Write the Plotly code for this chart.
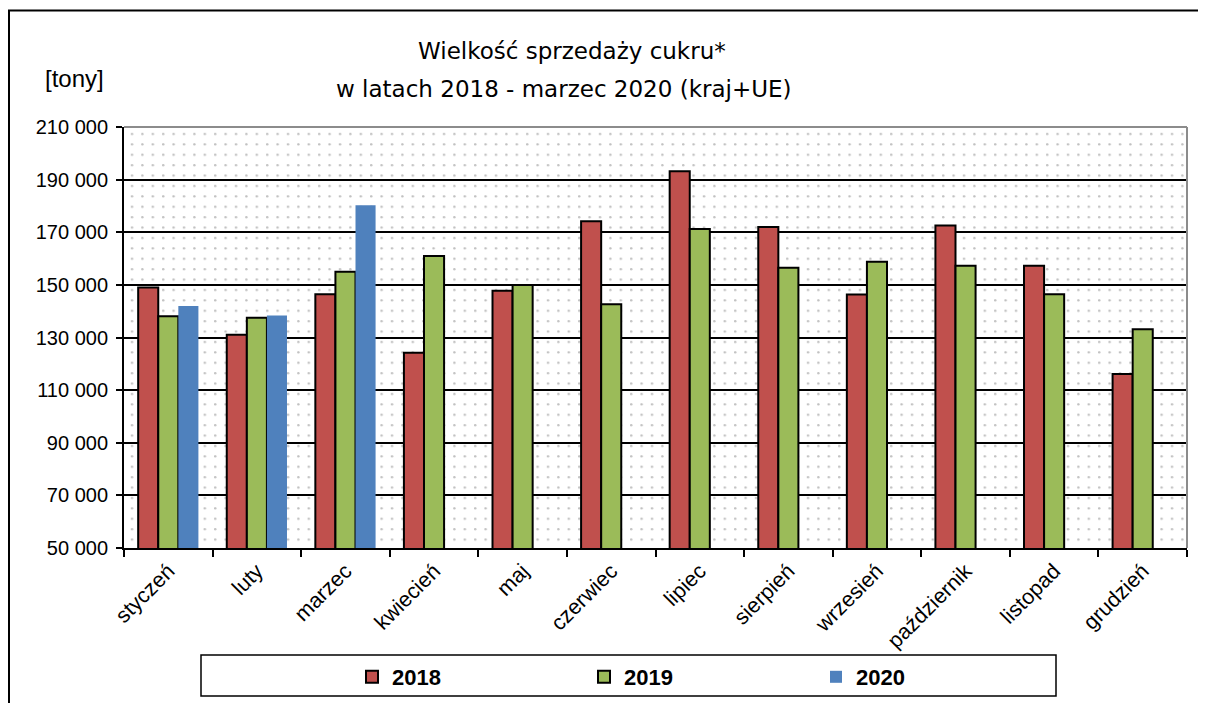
import base64
import plotly.graph_objects as go

months = ["styczeń", "luty", "marzec", "kwiecień", "maj", "czerwiec", "lipiec",
          "sierpień", "wrzesień", "październik", "listopad", "grudzień"]
sales_2018 = [149000, 131000, 146400, 124200, 147800, 174200, 193200, 172000, 146300, 172600, 157300, 116100]
sales_2019 = [138100, 137500, 155000, 161000, 150000, 142600, 171200, 156500, 158800, 157300, 146400, 133100]
sales_2020 = [142000, 138400, 180300, None, None, None, None, None, None, None, None, None]
y_ticks = [50000, 70000, 90000, 110000, 130000, 150000, 170000, 190000, 210000]

# the page adds an 8px body margin, so the figure is drawn 8px smaller and positions are page-8
OFF = 8
W, H = 1190, 695
L, T = 124 - OFF, 127 - OFF
R, B = W - (1187 - OFF), H - (548 - OFF)
PW, PH = W - L - R, H - T - B

def px_x(p):
    return (p - OFF - L) / PW

def px_y(p):
    return (H - B - (p - OFF)) / PH

# dotted background pattern (decoration)
svg = (f'<svg xmlns="http://www.w3.org/2000/svg" width="{PW}" height="{PH}" '
       f'viewBox="0 0 {PW} {PH}" preserveAspectRatio="none">'
       '<defs><pattern id="d" x="3" y="2" width="10.4" height="10.4" patternUnits="userSpaceOnUse">'
       '<circle cx="5" cy="5" r="1.2" fill="#c0c0c0"/></pattern></defs>'
       f'<rect width="{PW}" height="{PH}" fill="url(#d)"/></svg>')
svg_uri = "data:image/svg+xml;base64," + base64.b64encode(svg.encode()).decode()

font = "Liberation Sans, Arial, sans-serif"
title_font = "DejaVu Sans, sans-serif"
fig = go.Figure()
fig.add_trace(go.Bar(name="2018", x=months, y=sales_2018,
                     marker=dict(color="#C0504D", line=dict(color="black", width=2))))
fig.add_trace(go.Bar(name="2019", x=months, y=sales_2019,
                     marker=dict(color="#9BBB59", line=dict(color="black", width=2))))
fig.add_trace(go.Bar(name="2020", x=months, y=sales_2020,
                     marker=dict(color="#4F81BD", line=dict(color="#4F81BD", width=0))))

fig.update_layout(
    width=W, height=H,
    margin=dict(l=L, r=R, t=T, b=B, autoexpand=False),
    paper_bgcolor="white", plot_bgcolor="white",
    barmode="group", bargap=0.32, bargroupgap=0,
    separators=", ",
    font=dict(family=font, color="black", size=20),
    showlegend=True,
    legend=dict(orientation="h", x=px_x(352), xanchor="left", y=px_y(677), yanchor="middle",
                bgcolor="rgba(0,0,0,0)", borderwidth=0, entrywidth=187, entrywidthmode="pixels",
                font=dict(family=font, size=22, color="black", weight="bold"),
                traceorder="normal"),
    xaxis=dict(type="category", showgrid=False, showline=True, linecolor="black", linewidth=2,
               ticks="outside", tickson="boundaries", ticklen=7, tickcolor="black", tickwidth=1.5,
               tickangle=-45, tickfont=dict(family=font, size=21.5, color="black"),
               range=[-0.5, 11.5], automargin=False),
    yaxis=dict(range=[50000, 210000], tickvals=y_ticks, tickformat=",d",
               showgrid=True, gridcolor="black", gridwidth=1.5,
               showline=True, linecolor="black", linewidth=2,
               ticks="outside", ticklen=6, tickcolor="black", tickwidth=1.5,
               tickfont=dict(family=font, size=20, color="black"), ticklabelstandoff=4,
               zeroline=False, automargin=False),
    images=[dict(source=svg_uri, xref="paper", yref="paper", x=0, y=1, sizex=1, sizey=1,
                 xanchor="left", yanchor="top", sizing="stretch", layer="below")],
    shapes=[
        # outer chart frame
        dict(type="rect", xref="paper", yref="paper", x0=px_x(OFF + 1), y0=px_y(760), x1=px_x(1260), y1=px_y(10.5),
             line=dict(color="black", width=2), fillcolor="rgba(0,0,0,0)", layer="above"),
        # plot area top/right border (gray)
        dict(type="line", xref="paper", yref="paper", x0=0, y0=1, x1=1, y1=1,
             line=dict(color="#8c8c8c", width=2), layer="above"),
        dict(type="line", xref="paper", yref="paper", x0=1, y0=0, x1=1, y1=1,
             line=dict(color="#8c8c8c", width=2), layer="above"),
        # legend box
        dict(type="rect", xref="paper", yref="paper", x0=px_x(201), y0=px_y(696), x1=px_x(1056), y1=px_y(655),
             line=dict(color="black", width=1.5), fillcolor="rgba(0,0,0,0)", layer="above"),
    ],
    annotations=[
        dict(text="Wielkość sprzedaży cukru*", xref="paper", yref="paper", x=px_x(572), y=px_y(51),
             showarrow=False, xanchor="center", yanchor="middle",
             font=dict(family=title_font, size=23, color="black")),
        dict(text="w latach 2018 - marzec 2020 (kraj+UE)", xref="paper", yref="paper", x=px_x(564), y=px_y(89),
             showarrow=False, xanchor="center", yanchor="middle",
             font=dict(family=title_font, size=23, color="black")),
        dict(text="[tony]", xref="paper", yref="paper", x=px_x(106), y=px_y(78),
             showarrow=False, xanchor="right", yanchor="middle",
             font=dict(family=font, size=24, color="black")),
    ],
)

fig.write_html("out.html")
